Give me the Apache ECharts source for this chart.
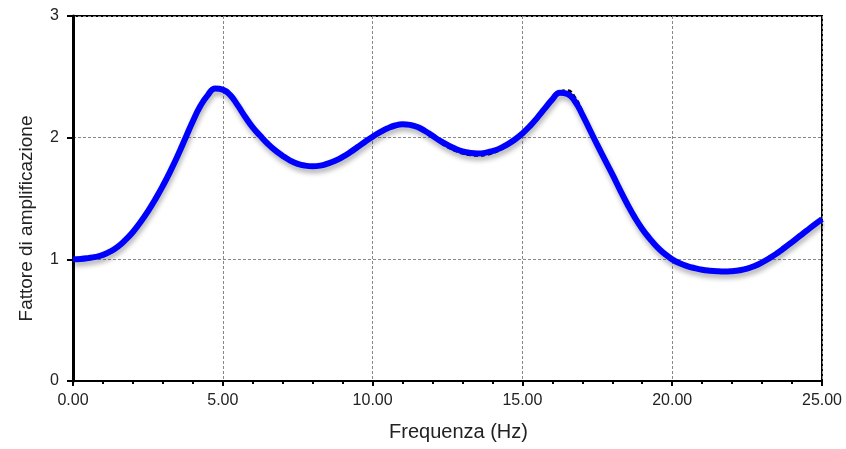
<!DOCTYPE html>
<html><head><meta charset="utf-8">
<script src="https://cdn.jsdelivr.net/npm/echarts@6/dist/echarts.min.js"></script>
<style>html,body{margin:0;padding:0;background:#fff}#c{width:846px;height:449px}</style>
</head><body><div id="c"></div>
<script>
const freq = [
  0,0.25,0.5,0.75, 1,1.25,1.5,1.75, 2,2.25,2.5,2.75, 3,3.25,3.5,3.75, 4,4.25,4.5,4.75,
  5,5.25,5.5,5.75, 6,6.25,6.5,6.75, 7,7.25,7.5,7.75, 8,8.25,8.5,8.75, 9,9.25,9.5,9.75,
  10,10.25,10.5,10.75, 11,11.25,11.5,11.75, 12,12.25,12.5,12.75, 13,13.25,13.5,13.75, 14,14.25,14.5,14.75,
  15,15.25,15.5,15.75, 16,16.25,16.5,16.75, 17,17.25,17.5,17.75, 18,18.25,18.5,18.75, 19,19.25,19.5,19.75,
  20,20.25,20.5,20.75, 21,21.25,21.5,21.75, 22,22.25,22.5,22.75, 23,23.25,23.5,23.75, 24,24.25,24.5,24.75, 25];
const ampBlue = [
  1.000,1.003,1.010,1.02, 1.037,1.065,1.105,1.16, 1.225,1.305,1.395,1.495, 1.605,1.725,1.855,1.995, 2.135,2.26,2.35,2.405,
  2.395,2.35,2.265,2.17, 2.085,2.015,1.95,1.895, 1.85,1.812,1.785,1.77, 1.765,1.77,1.787,1.81, 1.842,1.88,1.923,1.967,
  2.008,2.045,2.077,2.10, 2.11,2.105,2.088,2.055, 2.015,1.975,1.94,1.91, 1.888,1.875,1.87,1.875, 1.89,1.912,1.945,1.985,
  2.035,2.095,2.165,2.24, 2.315,2.37,2.36,2.30, 2.19,2.065,1.94,1.82, 1.70,1.575,1.455,1.345, 1.25,1.17,1.10,1.045,
  1.00,0.968,0.945,0.928, 0.915,0.907,0.902,0.90, 0.903,0.91,0.923,0.945, 0.975,1.01,1.05,1.095, 1.142,1.19,1.238,1.285, 1.33];
const ampBlack = [
  1.000,1.003,1.010,1.02, 1.037,1.065,1.105,1.16, 1.225,1.305,1.395,1.495, 1.605,1.725,1.855,1.995, 2.135,2.26,2.35,2.405,
  2.395,2.35,2.265,2.17, 2.085,2.015,1.95,1.895, 1.85,1.812,1.785,1.77, 1.765,1.77,1.787,1.81, 1.842,1.88,1.923,1.967,
  2.008,2.045,2.077,2.10, 2.11,2.105,2.088,2.055, 2.008,1.963,1.925,1.895, 1.873,1.86,1.855,1.86, 1.875,1.90,1.94,1.985,
  2.035,2.095,2.165,2.24, 2.32,2.375,2.385,2.33, 2.21,2.075,1.945,1.82, 1.70,1.575,1.455,1.345, 1.25,1.17,1.10,1.045,
  1.00,0.968,0.945,0.928, 0.915,0.907,0.902,0.90, 0.903,0.91,0.923,0.945, 0.975,1.01,1.05,1.095, 1.142,1.19,1.238,1.285, 1.33];
const xTickLabels = ['0.00','5.00','10.00','15.00','20.00','25.00'];
const yTickLabels = ['0','1','2','3'];

const chart = echarts.init(document.getElementById('c'), null, {renderer:'canvas'});
const font = 'Liberation Sans, Arial, sans-serif';
chart.setOption({
  animation:false,
  grid:{left:73,right:24,top:16,bottom:68,show:true,borderColor:'#000',borderWidth:2,backgroundColor:'transparent'},
  xAxis:{type:'value',min:0,max:25,interval:5,
    name:'Frequenza (Hz)',nameLocation:'middle',nameGap:41,
    nameTextStyle:{fontFamily:font,fontSize:20,color:'#222',padding:[0,0,0,22]},
    axisLine:{show:true,lineStyle:{color:'#000',width:2}},
    axisTick:{show:true,length:5,lineStyle:{color:'#000',width:2}},
    minorTick:{show:true,splitNumber:5,length:3,lineStyle:{color:'#000',width:2}},
    axisLabel:{fontFamily:font,fontSize:16,color:'#222',margin:12,formatter:v=>xTickLabels[Math.round(v/5)]},
    splitLine:{show:true,lineStyle:{color:'#888',type:[3,2],width:1}}
  },
  yAxis:{type:'value',min:0,max:3,interval:1,
    name:'Fattore di amplificazione',nameLocation:'middle',nameGap:37,
    nameTextStyle:{fontFamily:font,fontSize:19,color:'#222',padding:[0,0,0,-40]},
    axisLine:{show:true,lineStyle:{color:'#000',width:3}},
    axisTick:{show:true,length:6,lineStyle:{color:'#000',width:2}},
    axisLabel:{fontFamily:font,fontSize:16,color:'#222',margin:14,formatter:v=>yTickLabels[Math.round(v)]},
    splitLine:{show:true,lineStyle:{color:'#888',type:[3,2],width:1}}
  },
  series:[
    {type:'line',data:freq.map((f,i)=>[f,ampBlack[i]]),smooth:0.5,showSymbol:false,z:2,
      lineStyle:{color:'#000',width:3,type:[4,3]}},
    {type:'line',data:freq.map((f,i)=>[f,ampBlue[i]]),smooth:0.5,showSymbol:false,z:3,
      lineStyle:{color:'#0000ff',width:6,shadowColor:'rgba(0,0,0,0.3)',shadowBlur:5,shadowOffsetX:1,shadowOffsetY:4}}
  ]
});
</script></body></html>
